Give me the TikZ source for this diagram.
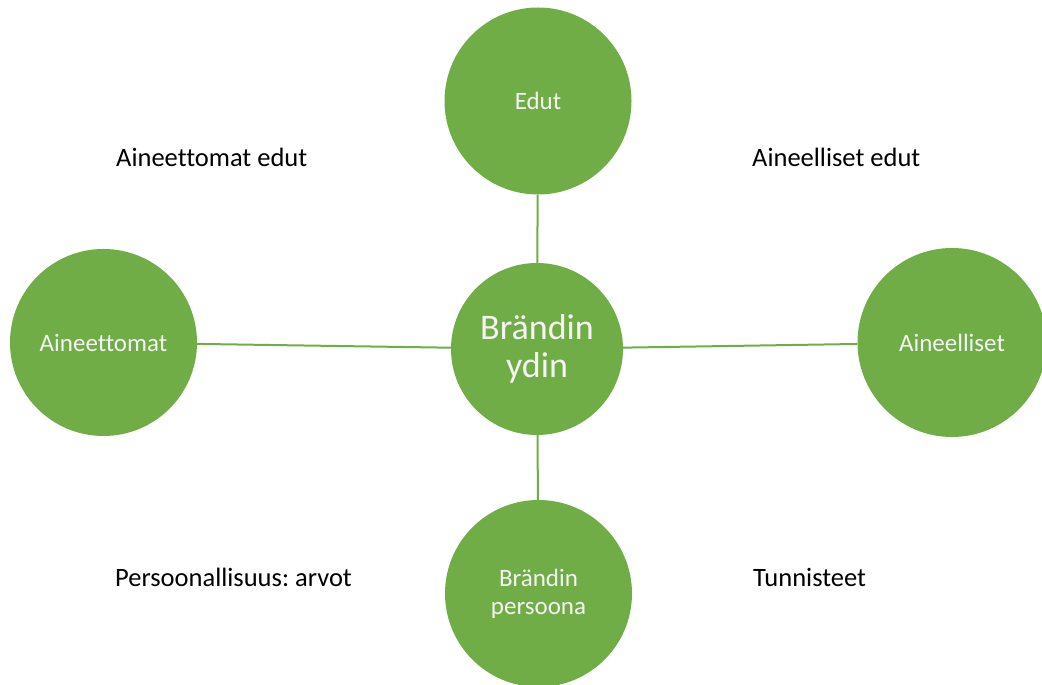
\documentclass[tikz,border=0pt]{standalone}
\usepackage{fontspec}
\setmainfont{Carlito}[Ligatures=NoCommon]
\definecolor{gr}{HTML}{70AD47}
\definecolor{wt}{HTML}{F4F4F4}
\frenchspacing
\begin{document}
\begin{tikzpicture}[x=1pt,y=1pt,
  bub/.style={circle,fill=gr,draw=none,text=wt,align=center,inner sep=0pt},
  small/.style={font=\fontsize{25}{28}\selectfont},
  lab/.style={anchor=base west,inner sep=0pt,font=\fontsize{26.5}{30}\selectfont},
  conn/.style={draw=gr,line width=2pt}]
\useasboundingbox (0,0) rectangle (1042,685);
\node[bub,minimum size=187pt,small] (edut) at (538,584) {Edut};
\node[bub,minimum size=172pt,font=\fontsize{36}{38}\selectfont] (ydin) at (537,336) {Brändin\\ydin};
\node[bub,minimum size=187pt,small] (aineettomat) at (103.5,342.5) {Aineettomat};
\node[bub,minimum size=189pt,small] (aineelliset) at (952,342.5) {Aineelliset};
\node[bub,minimum size=187pt,small] (persoona) at (538.5,91.5) {Brändin\\persoona};
\draw[conn] (ydin) -- (edut);
\draw[conn] (ydin) -- (aineettomat);
\draw[conn] (ydin) -- (aineelliset);
\draw[conn] (ydin) -- (persoona);
\node[lab] (l1) at (116,518) {Aineettomat edut};
\node[lab] (l2) at (752,518) {Aineelliset edut};
\node[lab] (l3) at (115,98) {Persoonallisuus: arvot};
\node[lab] (l4) at (753,98) {Tunnisteet};
\end{tikzpicture}
\end{document}
